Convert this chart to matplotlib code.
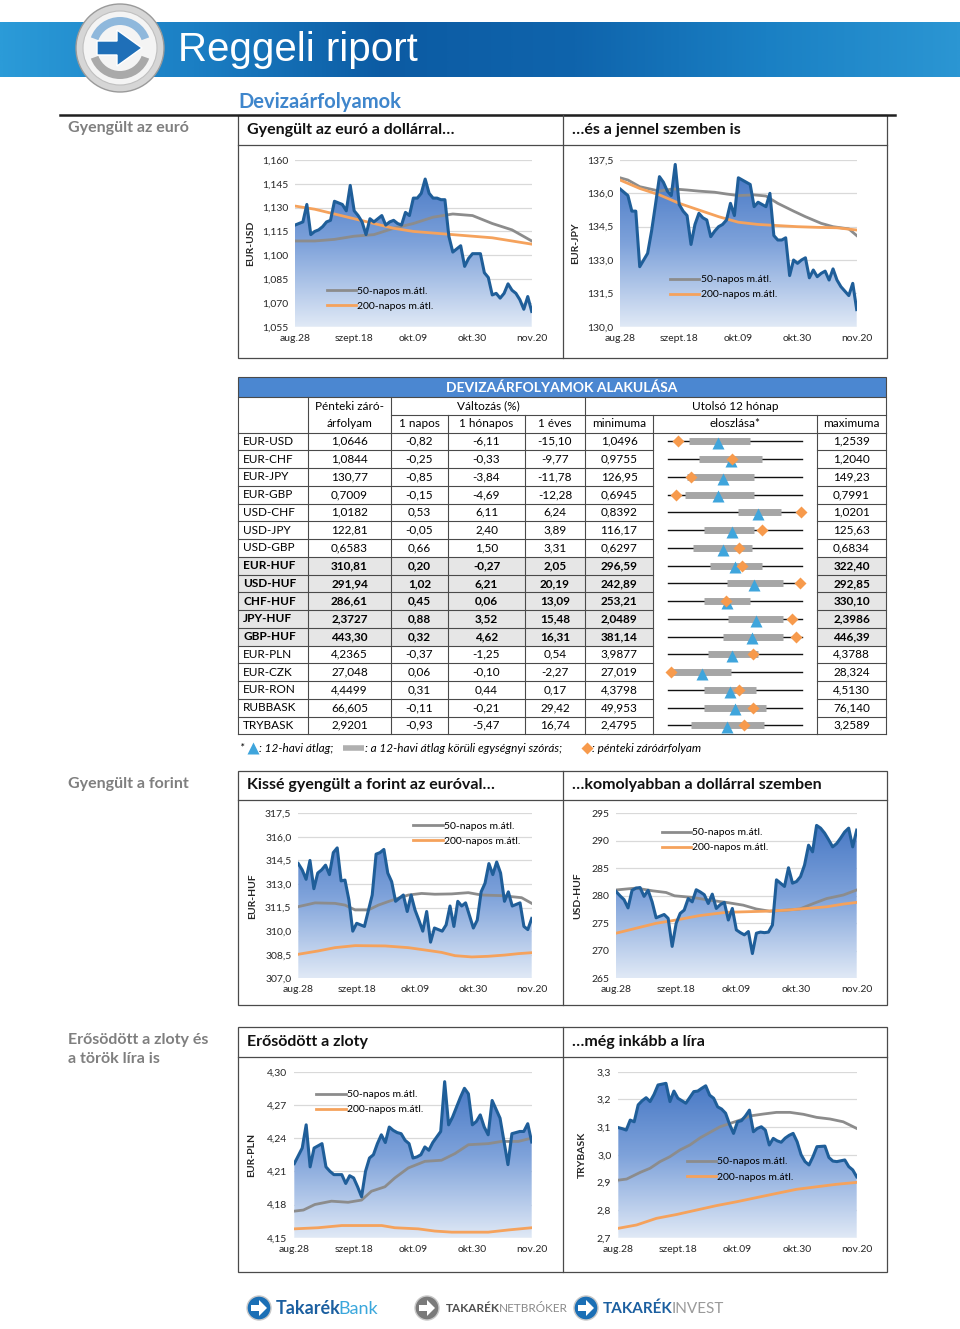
import numpy as np
import matplotlib.pyplot as plt
from matplotlib.colors import LinearSegmentedColormap
from matplotlib.patches import Rectangle, Circle, Polygon, Wedge
from matplotlib.lines import Line2D
from matplotlib.ticker import FuncFormatter

plt.rcParams['font.family'] = ['Lato', 'DejaVu Sans']

# --- chart data (daily closes aug.28 - nov.20, moving averages sampled) ---
date_ticks = [0, 15, 30, 45, 60]
date_labels = ['aug.28', 'szept.18', 'okt.09', 'okt.30', 'nov.20']

eurusd = [1.119, 1.120, 1.121, 1.132, 1.113, 1.115, 1.116, 1.118, 1.121, 1.122,
          1.134, 1.133, 1.132, 1.128, 1.144, 1.128, 1.125, 1.121, 1.113, 1.123,
          1.121, 1.123, 1.125, 1.119, 1.121, 1.122, 1.120, 1.119, 1.127, 1.125,
          1.136, 1.136, 1.139, 1.148, 1.139, 1.136, 1.136, 1.135, 1.135, 1.112,
          1.102, 1.104, 1.106, 1.093, 1.098, 1.101, 1.101, 1.101, 1.089, 1.086,
          1.075, 1.076, 1.073, 1.076, 1.082, 1.078, 1.076, 1.072, 1.066, 1.074, 1.0646]
eurusd_ma50_t = [0, 5, 10, 15, 20, 25, 30, 35, 40, 45, 50, 55, 60]
eurusd_ma50 = [1.109, 1.109, 1.110, 1.112, 1.113, 1.117, 1.120, 1.124, 1.126, 1.125, 1.120, 1.116, 1.109]
eurusd_ma200_t = [0, 5, 10, 15, 20, 25, 30, 35, 40, 45, 50, 55, 60]
eurusd_ma200 = [1.131, 1.129, 1.126, 1.123, 1.120, 1.117, 1.115, 1.114, 1.113, 1.112, 1.111, 1.109, 1.107]

eurjpy = [136.2, 136.05, 135.9, 135.2, 135.2, 132.7, 133.0, 133.3, 134.3, 135.5,
          136.75, 136.5, 136.1, 135.9, 137.3, 135.5, 135.2, 135.0, 133.7, 134.6,
          135.1, 134.9, 134.8, 134.05, 134.3, 134.5, 134.6, 134.8, 135.55, 135.0,
          136.7, 136.6, 136.5, 136.4, 135.4, 135.6, 135.5, 135.4, 136.0, 134.1,
          133.9, 133.9, 134.0, 132.3, 133.0, 132.85, 133.0, 133.1, 132.2, 132.55,
          132.25, 132.4, 132.5, 132.1, 132.6, 132.1, 131.8, 131.6, 131.4, 131.95, 130.77]
eurjpy_ma50_t = [0, 2, 5, 10, 13.5, 17, 20, 24, 27, 30, 34, 37, 40, 44, 47, 51, 54, 58, 60]
eurjpy_ma50 = [136.7, 136.6, 136.3, 136.1, 136.2, 136.15, 136.1, 136.05, 135.97, 135.9,
               135.93, 135.88, 135.55, 135.2, 134.95, 134.65, 134.5, 134.4, 134.1]
eurjpy_ma200_t = [0, 5, 10, 15, 20, 25, 30, 35, 40, 45, 50, 55, 60]
eurjpy_ma200 = [136.6, 136.22, 135.93, 135.55, 135.25, 134.95, 134.7, 134.6, 134.55, 134.5, 134.47, 134.45, 134.35]

eurhuf = [314.3, 313.9, 313.3, 314.5, 312.7, 313.7, 313.9, 314.2, 313.6, 315.0,
          315.3, 313.2, 313.25, 312.0, 310.0, 310.5, 310.4, 310.3, 311.3, 312.3,
          314.9, 315.0, 315.2, 313.7, 313.15, 311.9, 312.1, 312.3, 311.25, 312.3,
          311.35, 310.7, 310.0, 311.25, 309.3, 310.2, 310.1, 310.0, 310.4, 311.6,
          310.3, 311.9, 311.6, 311.8, 311.0, 310.2, 310.7, 312.5, 313.05, 314.3,
          313.6, 314.4, 313.7, 311.9, 312.5, 311.6, 311.7, 311.8, 310.3, 310.1, 310.81]
eurhuf_ma50_t = [0, 4.3, 9.4, 12, 14.6, 18, 20.6, 23.1, 25.7, 28.3, 31.7, 35.1, 39.4, 43.7, 47.1, 52.3, 57.4, 60]
eurhuf_ma50 = [311.56, 311.8, 311.77, 311.66, 311.35, 311.35, 311.66, 311.88, 312.1, 312.3,
               312.4, 312.35, 312.37, 312.45, 312.3, 312.26, 312.13, 311.77]
eurhuf_ma200_t = [0, 5.1, 9.4, 14.6, 22.3, 28.3, 32.6, 36.8, 40.3, 44.6, 48.8, 53.1, 56.6, 60]
eurhuf_ma200 = [308.53, 308.74, 308.95, 309.08, 309.06, 308.95, 308.8, 308.65, 308.44, 308.36,
                308.4, 308.48, 308.57, 308.63]

usdhuf = [280.8, 280.0, 279.3, 277.8, 281.0, 281.4, 281.5, 279.9, 281.0, 278.9,
          276.0, 276.3, 276.6, 275.9, 270.8, 275.0, 276.8, 277.4, 279.5, 278.9,
          281.1, 280.7, 280.2, 278.6, 280.3, 277.7, 278.4, 278.8, 275.6, 277.7,
          273.8, 273.3, 272.9, 273.5, 269.5, 273.2, 273.4, 273.3, 273.4, 274.7,
          282.9, 282.3, 281.7, 285.1, 282.3, 282.6, 283.5, 285.6, 289.2, 288.0,
          292.8, 292.3, 291.4, 290.2, 288.9, 289.5, 290.5, 291.6, 292.3, 288.9, 291.94]
usdhuf_ma50_t = [0, 5, 9.2, 12.5, 14.6, 19.2, 23.3, 27.5, 31.7, 35, 38.3, 42.5, 45.8, 49.2, 52.5, 56.7, 60]
usdhuf_ma50 = [281.06, 281.4, 280.9, 280.6, 280.0, 279.7, 279.2, 278.8, 278.3, 277.6,
               277.2, 277.4, 277.6, 278.6, 279.5, 280.15, 281.06]
usdhuf_ma200_t = [0, 5, 10, 15, 20.8, 27.5, 32.5, 37.5, 42.5, 47.5, 52.5, 56.7, 60]
usdhuf_ma200 = [273.2, 274.1, 275.0, 275.6, 276.4, 277.0, 277.1, 277.2, 277.4, 277.7, 278.0, 278.5, 278.8]

eurpln = [4.217, 4.224, 4.231, 4.252, 4.214, 4.231, 4.233, 4.235, 4.214, 4.210,
          4.207, 4.207, 4.207, 4.199, 4.206, 4.204, 4.196, 4.187, 4.210, 4.222,
          4.225, 4.235, 4.243, 4.236, 4.250, 4.247, 4.245, 4.244, 4.238, 4.235,
          4.222, 4.223, 4.225, 4.232, 4.229, 4.236, 4.241, 4.246, 4.291, 4.252,
          4.259, 4.268, 4.277, 4.285, 4.280, 4.252, 4.255, 4.261, 4.250, 4.243,
          4.274, 4.266, 4.258, 4.237, 4.216, 4.244, 4.245, 4.246, 4.246, 4.253, 4.2365]
eurpln_ma50_t = [0, 2.3, 5.2, 9.4, 13.6, 17, 19.5, 22.9, 25.4, 28.8, 33, 37.2, 40.6, 44, 49, 52.4, 56.6, 60]
eurpln_ma50 = [4.174, 4.175, 4.180, 4.183, 4.182, 4.184, 4.192, 4.196, 4.204, 4.213,
               4.219, 4.220, 4.226, 4.234, 4.235, 4.237, 4.237, 4.240]
eurpln_ma200_t = [0, 6, 12, 17.9, 22.1, 25.4, 31.3, 35.5, 39.8, 44, 49, 54.1, 60]
eurpln_ma200 = [4.158, 4.159, 4.161, 4.161, 4.161, 4.159, 4.158, 4.156, 4.155, 4.155, 4.155, 4.157, 4.159]

trybask = [3.098, 3.094, 3.089, 3.125, 3.119, 3.180, 3.195, 3.206, 3.192, 3.218,
           3.252, 3.255, 3.258, 3.192, 3.230, 3.204, 3.195, 3.186, 3.207, 3.228,
           3.230, 3.240, 3.249, 3.215, 3.204, 3.173, 3.165, 3.150, 3.110, 3.077,
           3.119, 3.123, 3.140, 3.161, 3.083, 3.095, 3.101, 3.089, 3.035, 3.059,
           3.050, 3.045, 3.060, 3.070, 3.077, 3.047, 3.000, 2.975, 2.963, 2.993,
           3.029, 3.030, 3.031, 2.990, 2.977, 2.975, 2.978, 2.981, 2.957, 2.945, 2.9201]
trybask_ma50_t = [0, 2.1, 5.5, 8, 10.5, 13, 15.5, 18, 20.6, 23.1, 25.6, 28.1, 30.6, 33.1,
                  36.5, 39.8, 43.2, 46.6, 49.9, 53.3, 56.6, 60]
trybask_ma50 = [2.908, 2.912, 2.936, 2.951, 2.975, 2.993, 3.017, 3.035, 3.061, 3.081, 3.101,
                3.113, 3.125, 3.140, 3.147, 3.153, 3.153, 3.146, 3.135, 3.129, 3.119, 3.095]
trybask_ma200_t = [0, 4.6, 9.6, 14.7, 19.7, 24.7, 29.8, 34.8, 39.8, 44.9, 49.9, 54.9, 60]
trybask_ma200 = [2.734, 2.746, 2.770, 2.784, 2.800, 2.816, 2.830, 2.845, 2.860, 2.875, 2.884, 2.893, 2.900]

# --- table data ---
pairs = ['EUR-USD', 'EUR-CHF', 'EUR-JPY', 'EUR-GBP', 'USD-CHF', 'USD-JPY', 'USD-GBP',
         'EUR-HUF', 'USD-HUF', 'CHF-HUF', 'JPY-HUF', 'GBP-HUF', 'EUR-PLN', 'EUR-CZK',
         'EUR-RON', 'RUBBASK', 'TRYBASK']
close = ['1,0646', '1,0844', '130,77', '0,7009', '1,0182', '122,81', '0,6583', '310,81', '291,94',
         '286,61', '2,3727', '443,30', '4,2365', '27,048', '4,4499', '66,605', '2,9201']
chg_1d = ['-0,82', '-0,25', '-0,85', '-0,15', '0,53', '-0,05', '0,66', '0,20', '1,02', '0,45',
          '0,88', '0,32', '-0,37', '0,06', '0,31', '-0,11', '-0,93']
chg_1m = ['-6,11', '-0,33', '-3,84', '-4,69', '6,11', '2,40', '1,50', '-0,27', '6,21', '0,06',
          '3,52', '4,62', '-1,25', '-0,10', '0,44', '-0,21', '-5,47']
chg_1y = ['-15,10', '-9,77', '-11,78', '-12,28', '6,24', '3,89', '3,31', '2,05', '20,19', '13,09',
          '15,48', '16,31', '0,54', '-2,27', '0,17', '29,42', '16,74']
min12 = ['1,0496', '0,9755', '126,95', '0,6945', '0,8392', '116,17', '0,6297', '296,59', '242,89',
         '253,21', '2,0489', '381,14', '3,9877', '27,019', '4,3798', '49,953', '2,4795']
max12 = ['1,2539', '1,2040', '149,23', '0,7991', '1,0201', '125,63', '0,6834', '322,40', '292,85',
         '330,10', '2,3986', '446,39', '4,3788', '28,324', '4,5130', '76,140', '3,2589']
# 12-month mean and +-1 std band, as share of the min-max range
dist_avg = [0.375, 0.47, 0.41, 0.375, 0.67, 0.48, 0.41, 0.50, 0.64, 0.44, 0.66, 0.625, 0.48, 0.25, 0.46, 0.50, 0.44]
dist_lo = [0.16, 0.23, 0.14, 0.125, 0.52, 0.27, 0.19, 0.31, 0.44, 0.27, 0.45, 0.41, 0.30, 0.016, 0.27, 0.27, 0.17]
dist_hi = [0.61, 0.70, 0.64, 0.64, 0.84, 0.64, 0.625, 0.70, 0.86, 0.61, 0.86, 0.86, 0.67, 0.47, 0.66, 0.73, 0.72]
huf_rows = ['EUR-HUF', 'USD-HUF', 'CHF-HUF', 'JPY-HUF', 'GBP-HUF']

# --- colours ---
BLUE = '#1f5e99'
GRAY = '#8c8c8c'
ORANGE = '#f5a25c'
LINE = '#4a4a4a'
fill_cmap = LinearSegmentedColormap.from_list('fill', ['#e0e9f6', '#7ea2da', '#3f72c2'])

W, H = 960, 1329
fig = plt.figure(figsize=(W / 100, H / 100), dpi=100)
bg = fig.add_axes([0, 0, 1, 1])
bg.axis('off')


def px_axes(x0, y0, x1, y1):
    return fig.add_axes([x0 / W, 1 - y1 / H, (x1 - x0) / W, (y1 - y0) / H])


def num(s):
    return float(s.replace(',', '.'))


# --- header banner ---
band_cmap = LinearSegmentedColormap.from_list(
    'band', ['#2b9bd8', '#1b7fc4', '#0c5ba3', '#0f64ac', '#1a80c4', '#2b96d3'])
bg.imshow(np.linspace(0, 1, 512).reshape(1, -1), extent=[0, W, 77, 22], cmap=band_cmap, aspect='auto', zorder=0)
bg.add_patch(Circle((120, 48), 44, fc='#d6d6d6', ec='#9a9a9a', lw=1, zorder=2))
bg.add_patch(Circle((120, 48), 37, fc='#f4f4f4', ec='#c0c0c0', lw=0.8, zorder=2))
bg.add_patch(Wedge((120, 48), 31, 200, 340, width=8, fc='#8fb8dc', zorder=3))
bg.add_patch(Wedge((120, 48), 31, 20, 160, width=8, fc='#a9a9a9', zorder=3))
bg.add_patch(Polygon([(97, 41), (117, 41), (117, 30), (142, 48), (117, 66), (117, 55), (97, 55)],
                     closed=True, fc='#1f6fb8', ec='white', lw=1, zorder=4))
bg.text(178, 50, 'Reggeli riport', color='white', fontsize=29, family='Liberation Sans',
        ha='left', va='center', zorder=5)

bg.text(238, 102, 'Devizaárfolyamok', color='#3f86cc', fontsize=14.5, weight='bold', ha='left', va='center')

# --- section frames ---
bg.plot([60, 895], [115, 115], color='#202020', lw=1.8)
sections = [(115, 145, 358, 'Gyengült az euró', 'Gyengült az euró a dollárral…', '…és a jennel szemben is'),
            (771, 800, 1005, 'Gyengült a forint', 'Kissé gyengült a forint az euróval…', '…komolyabban a dollárral szemben'),
            (1027, 1057, 1272, 'Erősödött a zloty és\na török líra is', 'Erősödött a zloty', '…még inkább a líra')]
for top, mid, bot, side, t1, t2 in sections:
    bg.add_patch(Rectangle((238, top), 887 - 238, bot - top, fc='none', ec=LINE, lw=0.9))
    bg.plot([563, 563], [top, bot], color=LINE, lw=0.9)
    bg.plot([238, 887], [mid, mid], color=LINE, lw=0.9)
    bg.text(247, (top + mid) / 2, t1, fontsize=11.5, weight='bold', ha='left', va='center', color='#111111')
    bg.text(572, (top + mid) / 2, t2, fontsize=11.5, weight='bold', ha='left', va='center', color='#111111')
    bg.text(68, top + 6, side, fontsize=11.5, weight='bold', ha='left', va='top', color='#7f7f7f',
            linespacing=1.45)


# --- line charts ---
def draw_chart(box, series, ma50_t, ma50, ma200_t, ma200, yticks, decimals, ylabel, label_x, leg_anchor):
    ax = px_axes(*box)
    x = np.arange(len(series))
    ymin, ymax = yticks[0], yticks[-1]
    poly = ax.fill_between(x, series, ymin, facecolor='none', edgecolor='none')
    im = ax.imshow(np.linspace(0, 1, 256).reshape(-1, 1), extent=[0, x[-1], ymin, ymax],
                   origin='lower', aspect='auto', cmap=fill_cmap, zorder=1)
    im.set_clip_path(poly.get_paths()[0], transform=ax.transData)
    ax.plot(ma50_t, ma50, color=GRAY, lw=2, zorder=3)
    ax.plot(ma200_t, ma200, color=ORANGE, lw=2, zorder=3)
    ax.plot(x, series, color=BLUE, lw=2.2, zorder=4, solid_joinstyle='round')
    ax.set_xlim(0, x[-1])
    ax.set_ylim(ymin, ymax)
    ax.set_yticks(yticks)
    ax.yaxis.set_major_formatter(FuncFormatter(lambda v, p: f'{v:.{decimals}f}'.replace('.', ',')))
    ax.set_xticks(date_ticks)
    ax.set_xticklabels(date_labels)
    ax.yaxis.grid(True, color='#d9d9d9', lw=0.9)
    ax.set_axisbelow(True)
    ax.tick_params(length=0, labelsize=7.5, colors='#262626', pad=5)
    for s in ax.spines.values():
        s.set_visible(False)
    ax.set_ylabel(ylabel, fontsize=7.5, weight='bold', color='#262626')
    ax.yaxis.set_label_coords(label_x, 0.5)
    handles = [Line2D([], [], color=GRAY, lw=2), Line2D([], [], color=ORANGE, lw=2)]
    ax.legend(handles, ['50-napos m.átl.', '200-napos m.átl.'], loc='upper left', bbox_to_anchor=leg_anchor,
              frameon=False, fontsize=7.5, handlelength=2.8, handletextpad=0.15, labelspacing=0.55,
              borderpad=0, borderaxespad=0)
    return ax


draw_chart((295, 160, 531.7, 326.7), eurusd, eurusd_ma50_t, eurusd_ma50, eurusd_ma200_t, eurusd_ma200,
           [1.055, 1.070, 1.085, 1.100, 1.115, 1.130, 1.145, 1.160], 3, 'EUR-USD', -0.169, (0.134, 0.24))
draw_chart((620, 160, 856.7, 326.7), eurjpy, eurjpy_ma50_t, eurjpy_ma50, eurjpy_ma200_t, eurjpy_ma200,
           [130.0, 131.5, 133.0, 134.5, 136.0, 137.5], 1, 'EUR-JPY', -0.169, (0.211, 0.31))
draw_chart((298.3, 813.3, 531.7, 978.3), eurhuf, eurhuf_ma50_t, eurhuf_ma50, eurhuf_ma200_t, eurhuf_ma200,
           [307.0, 308.5, 310.0, 311.5, 313.0, 314.5, 316.0, 317.5], 1, 'EUR-HUF', -0.177, (0.493, 0.95))
draw_chart((616, 813.3, 856.7, 978.3), usdhuf, usdhuf_ma50_t, usdhuf_ma50, usdhuf_ma200_t, usdhuf_ma200,
           [265, 270, 275, 280, 285, 290, 295], 0, 'USD-HUF', -0.141, (0.19, 0.91))
draw_chart((294.3, 1071.7, 531.7, 1237.7), eurpln, eurpln_ma50_t, eurpln_ma50, eurpln_ma200_t, eurpln_ma200,
           [4.15, 4.18, 4.21, 4.24, 4.27, 4.30], 2, 'EUR-PLN', -0.161, (0.093, 0.89))
draw_chart((618.3, 1071.7, 856.7, 1237.7), trybask, trybask_ma50_t, trybask_ma50, trybask_ma200_t, trybask_ma200,
           [2.7, 2.8, 2.9, 3.0, 3.1, 3.2, 3.3], 1, 'TRYBASK', -0.131, (0.287, 0.485))

# --- table ---
cols = [238, 308, 391, 448, 525, 585, 653, 817, 886]
y0, y1, y2, y3 = 377, 397, 415, 432.5
rh = 17.75
n = len(pairs)
yend = y3 + n * rh
fs = 8.5

bg.add_patch(Rectangle((cols[0], y0), cols[-1] - cols[0], y1 - y0, fc='#4b87d1', ec=LINE, lw=0.8))
bg.text((cols[0] + cols[-1]) / 2, (y0 + y1) / 2 + 0.5, 'DEVIZAÁRFOLYAMOK ALAKULÁSA', color='white',
        fontsize=10, weight='bold', ha='center', va='center')

for i, p in enumerate(pairs):
    if p in huf_rows:
        ry = y3 + i * rh
        bg.add_patch(Rectangle((cols[0], ry), cols[6] - cols[0], rh, fc='#e6e6e6', ec='none'))
        bg.add_patch(Rectangle((cols[7], ry), cols[8] - cols[7], rh, fc='#e6e6e6', ec='none'))

# header grid
for c in [cols[0], cols[1], cols[2], cols[5], cols[8]]:
    bg.plot([c, c], [y1, y3], color=LINE, lw=0.8)
for c in [cols[3], cols[4], cols[6], cols[7]]:
    bg.plot([c, c], [y2, y3], color=LINE, lw=0.8)
bg.plot([cols[2], cols[8]], [y2, y2], color=LINE, lw=0.8)
bg.plot([cols[0], cols[8]], [y3, y3], color=LINE, lw=0.8)
# body grid
for c in cols:
    bg.plot([c, c], [y3, yend], color=LINE, lw=0.8)
for k in range(1, n + 1):
    yy = y3 + k * rh
    bg.plot([cols[0], cols[6]], [yy, yy], color=LINE, lw=0.8)
    bg.plot([cols[7], cols[8]], [yy, yy], color=LINE, lw=0.8)
bg.plot([cols[6], cols[7]], [yend, yend], color=LINE, lw=0.8)

ctr = [(cols[j] + cols[j + 1]) / 2 for j in range(len(cols) - 1)]
bg.text(ctr[1], (y1 + y2) / 2, 'Pénteki záró-', fontsize=fs, ha='center', va='center')
bg.text(ctr[1], (y2 + y3) / 2, 'árfolyam', fontsize=fs, ha='center', va='center')
bg.text((cols[2] + cols[5]) / 2, (y1 + y2) / 2, 'Változás (%)', fontsize=fs, ha='center', va='center')
bg.text((cols[5] + cols[8]) / 2, (y1 + y2) / 2, 'Utolsó 12 hónap', fontsize=fs, ha='center', va='center')
for j, lab in zip(range(2, 8), ['1 napos', '1 hónapos', '1 éves', 'minimuma', 'eloszlása*', 'maximuma']):
    bg.text(ctr[j], (y2 + y3) / 2, lab, fontsize=fs, ha='center', va='center')

for i, p in enumerate(pairs):
    yc = y3 + (i + 0.5) * rh
    w = 'bold' if p in huf_rows else 'normal'
    bg.text(cols[0] + 5, yc, p, fontsize=fs, weight=w, ha='left', va='center')
    for j, v in zip([1, 2, 3, 4, 5, 7], [close[i], chg_1d[i], chg_1m[i], chg_1y[i], min12[i], max12[i]]):
        bg.text(ctr[j], yc, v, fontsize=fs, weight=w, ha='center', va='center')

dax = px_axes(668, y3, 802, yend)
dax.set_xlim(0, 1)
dax.set_ylim(n, 0)
dax.axis('off')
for i in range(n):
    yc = i + 0.5
    cur = (num(close[i]) - num(min12[i])) / (num(max12[i]) - num(min12[i]))
    dax.plot([0, 1], [yc, yc], color='#111111', lw=1, clip_on=False)
    dax.plot([dist_lo[i], dist_hi[i]], [yc, yc], color='#a6a6a6', lw=5, solid_capstyle='butt', clip_on=False)
    dax.plot(dist_avg[i], yc + 0.1, marker='^', color='#3fa5dc', ms=8.5, mec='none', clip_on=False)
    dax.plot(cur, yc, marker='D', color='#f79a4c', ms=6.5, mec='none', clip_on=False)

# footnote
fy = 748
bg.text(239, fy, '*', fontsize=fs, style='italic', ha='left', va='center')
bg.plot([253], [fy - 0.5], marker='^', color='#3fa5dc', ms=8, mec='none')
bg.text(259, fy, ': 12-havi átlag;', fontsize=fs, style='italic', ha='left', va='center')
bg.plot([343, 364], [fy, fy], color='#b0b0b0', lw=4, solid_capstyle='butt')
bg.text(365, fy, ': a 12-havi átlag körüli egységnyi szórás;', fontsize=fs, style='italic', ha='left', va='center')
bg.plot([587], [fy], marker='D', color='#f79a4c', ms=6, mec='none')
bg.text(592, fy, ': pénteki záróárfolyam', fontsize=fs, style='italic', ha='left', va='center')

# --- footer logos ---
for cx, fc in [(259, '#1b6fb5'), (427, '#7a7a7a'), (586, '#1b6fb5')]:
    bg.add_patch(Circle((cx, 1308), 12, fc=fc, ec='#c8c8c8', lw=1))
    bg.add_patch(Polygon([(cx - 8, 1305), (cx, 1305), (cx, 1300), (cx + 8, 1308), (cx, 1316), (cx, 1311),
                          (cx - 8, 1311)], closed=True, fc='white', ec='none'))
t = bg.text(276, 1309, 'Takarék', fontsize=13, weight='bold', color='#1b5fa0', ha='left', va='center')
bg.annotate('Bank', xy=(1, 0.5), xycoords=t, xytext=(-1.5, 0), textcoords='offset points',
            fontsize=13, color='#3aa7dc', ha='left', va='center')
t = bg.text(446, 1309, 'TAKARÉK', fontsize=8.5, weight='bold', color='#505050', ha='left', va='center')
bg.annotate('NETBRÓKER', xy=(1, 0.5), xycoords=t, xytext=(-1, 0), textcoords='offset points',
            fontsize=8.5, color='#8a8a8a', ha='left', va='center')
t = bg.text(603, 1309, 'TAKARÉK', fontsize=11, weight='bold', color='#1b5fa0', ha='left', va='center')
bg.annotate('INVEST', xy=(1, 0.5), xycoords=t, xytext=(-1, 0), textcoords='offset points',
            fontsize=11, color='#9a9a9a', ha='left', va='center')

bg.set_xlim(0, W)
bg.set_ylim(H, 0)

fig.savefig('out.png', dpi=100)
